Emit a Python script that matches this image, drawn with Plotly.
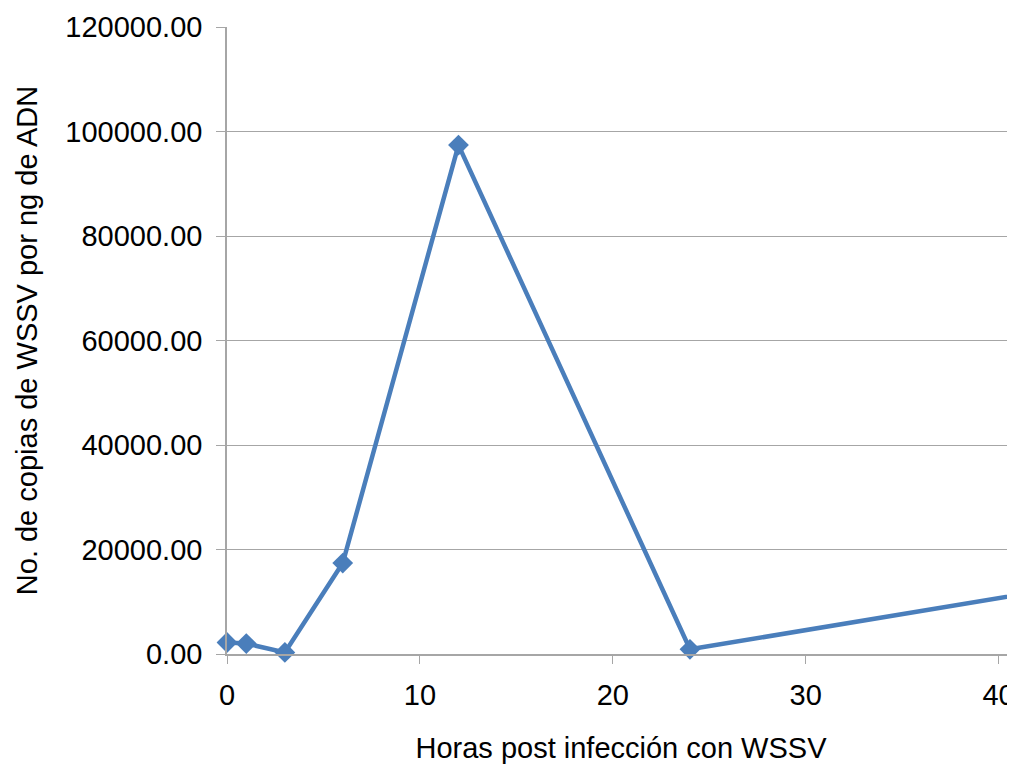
import plotly.graph_objects as go

hours = [0, 1, 3, 6, 12, 24, 48]
copies = [2200, 2000, 300, 17400, 97400, 900, 15600]
y_ticks = [0, 20000, 40000, 60000, 80000, 100000, 120000]
x_ticks = [0, 10, 20, 30, 40]

blue = "#4A7EBB"
grid = "#A6A6A6"
fam = "Liberation Sans, Arial, sans-serif"

fig = go.Figure()
fig.add_trace(go.Scatter(
    x=hours, y=copies, mode="lines+markers",
    line=dict(color=blue, width=4.5),
    marker=dict(symbol="diamond", size=16, color=blue),
    cliponaxis=False, showlegend=False,
))

# page body has an 8px margin; figure sized/offset so the plot lands where the reference has it
fig.update_layout(
    width=1007, height=757,
    margin=dict(l=219, r=0, t=19, b=111),
    paper_bgcolor="white", plot_bgcolor="white",
    font=dict(family=fam, size=29, color="#000000"),
    xaxis=dict(
        range=[0, 40.85], tickvals=x_ticks, ticks="outside", ticklen=8,
        tickcolor=grid, showgrid=False, showline=True, linecolor=grid,
        linewidth=1.5, zeroline=False, automargin=False,
        tickfont=dict(family=fam, size=29, color="#000000"), ticklabelstandoff=6,
        title=dict(text="Horas post infección con WSSV", standoff=28,
                   font=dict(family=fam, size=29, color="#000000")),
    ),
    yaxis=dict(
        range=[0, 120000], tickvals=y_ticks,
        ticktext=[f"{v:.2f}" for v in y_ticks],
        ticks="outside", ticklen=9, tickcolor=grid,
        showgrid=True, gridcolor=grid, gridwidth=1,
        showline=True, linecolor=grid, linewidth=1.5, zeroline=False,
        automargin=False, tickfont=dict(family=fam, size=29, color="#000000"),
        ticklabelstandoff=8,
        title=dict(text="No. de copias de WSSV por ng de ADN", standoff=19,
                   font=dict(family=fam, size=29, color="#000000")),
    ),
)

fig.write_html("out.html")
